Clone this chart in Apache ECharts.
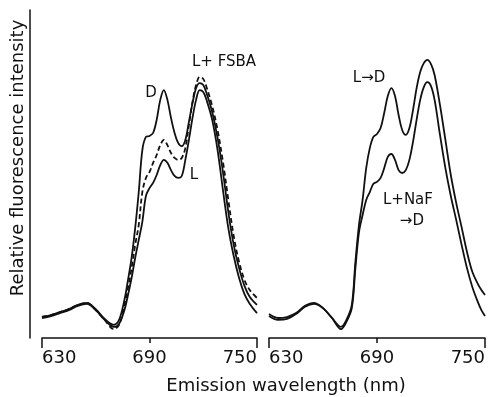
<!DOCTYPE html>
<html>
<head>
<meta charset="utf-8">
<script src="https://cdn.jsdelivr.net/npm/echarts@6/dist/echarts.min.js"></script>
<style>
  html, body { margin: 0; padding: 0; background: #fff; }
  #main { width: 492px; height: 397px; }
</style>
</head>
<body>
<div id="main"></div>
<script>
// emission wavelengths (nm)
const wlLeft = [630, 635, 640, 645, 650, 655, 660, 665, 670, 673, 676, 678, 680, 682, 684, 686, 688, 690, 692, 694, 696, 698, 700, 702, 704, 706, 708, 710, 712, 714, 716, 718, 720, 722, 725, 728, 731, 734, 737, 740, 743, 746, 750];
// left panel: D, L, L+FSBA (relative units)
const valD = [6.4, 7.0, 7.9, 8.8, 10.1, 10.7, 8.8, 5.8, 4.0, 5.5, 11.6, 17.7, 24.4, 33.5, 44.5, 57.3, 61.3, 61.6, 62.5, 66.5, 72.6, 75.6, 72.6, 67.1, 62.5, 59.5, 58.5, 60.4, 65.9, 71.6, 76.2, 77.7, 77.1, 74.4, 68.9, 61.0, 50.6, 38.4, 28.4, 21.3, 15.9, 12.5, 10.1];
const valL = [6.1, 6.7, 7.6, 8.5, 9.8, 10.4, 8.5, 5.5, 3.4, 4.3, 8.5, 13.1, 18.3, 24.4, 29.9, 35.4, 43.3, 45.7, 47.3, 49.7, 52.7, 54.3, 53.4, 51.2, 49.4, 48.8, 49.4, 54.3, 60.4, 67.1, 72.6, 75.6, 75.0, 72.3, 66.5, 57.3, 45.1, 33.5, 25.0, 18.3, 13.4, 10.4, 7.6];
const valFSBA = [6.4, 7.0, 7.9, 8.8, 10.1, 10.7, 8.5, 5.5, 2.7, 4.0, 10.1, 15.2, 21.3, 28.4, 34.5, 44.5, 48.8, 50.6, 53.4, 55.8, 58.8, 60.4, 58.8, 56.4, 54.9, 54.3, 54.9, 57.9, 64.9, 72.0, 77.1, 79.6, 79.0, 76.2, 70.7, 63.4, 53.7, 42.1, 31.1, 23.2, 17.7, 14.6, 12.2];

// right panel
const wlRight = [630, 635, 640, 645, 650, 655, 660, 665, 670, 673, 676, 678, 680, 682, 684, 686, 688, 690, 692, 694, 696, 698, 700, 702, 704, 706, 708, 710, 712, 714, 716, 718, 720, 722, 725, 728, 731, 734, 737, 740, 743, 746, 748, 750];
const valLtoD = [7.3, 6.1, 6.4, 7.6, 9.8, 10.7, 9.1, 6.1, 3.4, 5.5, 10.1, 23.2, 34.5, 42.1, 51.8, 57.9, 61.3, 62.2, 64.0, 68.6, 73.8, 76.2, 73.8, 68.0, 63.4, 61.9, 64.0, 69.5, 76.2, 81.1, 83.8, 84.8, 83.5, 80.2, 71.0, 60.4, 49.7, 41.2, 33.8, 26.2, 20.1, 16.5, 14.6, 13.1];
const valNaF = [6.7, 5.5, 5.8, 7.3, 9.5, 10.4, 9.1, 6.1, 2.7, 4.9, 9.1, 21.3, 32.3, 37.5, 42.1, 44.5, 47.0, 47.6, 48.8, 51.8, 55.2, 56.1, 54.3, 51.2, 50.3, 51.2, 54.3, 59.8, 66.5, 72.6, 76.5, 78.0, 76.8, 72.6, 61.9, 51.8, 43.3, 36.0, 28.4, 21.3, 15.5, 11.0, 8.5, 6.7];

const xTicks = [630, 690, 750];

// curve labels: [text, nm, value]
const labelsLeft = [['D', 690.8, 74.7], ['L', 714.8, 49.7], ['L+ FSBA', 731.6, 84.1]];
const labelsRight = [['L→D', 685.6, 79.3], ['L+NaF', 707.2, 42.1], ['→D', 709.4, 35.7]];

const ink = '#111';
const zip = (xs, ys) => xs.map((x, i) => [x, ys[i]]);

const myChart = echarts.init(document.getElementById('main'));

const mainX = (gi) => ({
    type: 'value', gridIndex: gi, position: 'bottom',
    min: xTicks[0], max: xTicks[2], interval: 60,
    axisLine: { lineStyle: { color: ink, width: 1.5 } },
    axisTick: { length: 5, lineStyle: { color: ink, width: 1.5 } },
    axisLabel: {
        color: ink, fontFamily: 'DejaVu Sans', fontSize: 18, margin: 11,
        alignMinLabel: 'left', alignMaxLabel: 'right'
    },
    splitLine: { show: false }
});
// second axis only for the longer end ticks
const endTicks = (gi) => ({
    type: 'value', gridIndex: gi, position: 'bottom',
    min: xTicks[0], max: xTicks[2], interval: 120,
    axisLine: { show: false },
    axisTick: { length: 10, lineStyle: { color: ink, width: 1.5 } },
    axisLabel: { show: false },
    splitLine: { show: false }
});

const curve = (name, xi, yi, data, dashed) => ({
    name: name, type: 'line', xAxisIndex: xi, yAxisIndex: yi,
    data: data, showSymbol: false, smooth: 0.35,
    lineStyle: { color: ink, width: 1.8, type: dashed ? [5, 3] : 'solid' },
    silent: true
});

const tags = (xi, yi, list) => ({
    type: 'scatter', xAxisIndex: xi, yAxisIndex: yi, symbolSize: 0, silent: true, z: 10,
    itemStyle: { opacity: 1 },
    data: list.map(d => ({ name: d[0], value: [d[1], d[2]] })),
    label: {
        show: true, position: 'inside', formatter: '{b}', opacity: 1,
        color: ink, fontFamily: 'DejaVu Sans', fontSize: 15,
        textBorderWidth: 0
    }
});

const option = {
    animation: false,
    backgroundColor: '#fff',
    grid: [
        { left: 42, top: 10, width: 215, height: 328 },
        { left: 269, top: 10, width: 216, height: 328 }
    ],
    xAxis: [mainX(0), endTicks(0), mainX(1), endTicks(1)],
    yAxis: [
        {
            type: 'value', gridIndex: 0, min: 0, max: 100, offset: 12,
            axisLine: { show: true, lineStyle: { color: ink, width: 1.5 } },
            axisTick: { show: false }, axisLabel: { show: false }, splitLine: { show: false }
        },
        { type: 'value', gridIndex: 1, min: 0, max: 100, show: false }
    ],
    graphic: [
        {
            type: 'text', x: 18, y: 158, rotation: Math.PI / 2,
            style: {
                text: 'Relative fluorescence intensity', fill: ink,
                font: '18px "DejaVu Sans"', align: 'center', verticalAlign: 'middle'
            }
        },
        {
            type: 'text', x: 286, y: 386,
            style: {
                text: 'Emission wavelength (nm)', fill: ink,
                font: '18px "DejaVu Sans"', align: 'center', verticalAlign: 'middle'
            }
        }
    ],
    series: [
        curve('L', 0, 0, zip(wlLeft, valL), false),
        curve('L+FSBA', 0, 0, zip(wlLeft, valFSBA), true),
        curve('D', 0, 0, zip(wlLeft, valD), false),
        curve('L+NaF→D', 2, 1, zip(wlRight, valNaF), false),
        curve('L→D', 2, 1, zip(wlRight, valLtoD), false),
        tags(0, 0, labelsLeft),
        tags(2, 1, labelsRight)
    ]
};

myChart.setOption(option);
</script>
</body>
</html>
